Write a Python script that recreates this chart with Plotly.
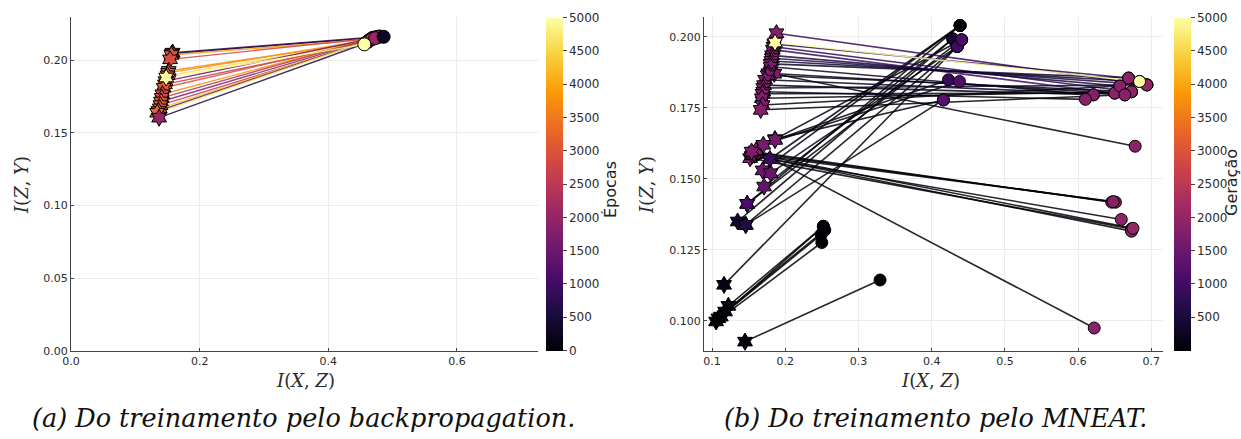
import plotly.graph_objects as go
from plotly.colors import sample_colorscale

# ---------------- (a) backpropagation ----------------
bp_star_x = [0.158, 0.157, 0.156, 0.154, 0.152, 0.151, 0.150, 0.147, 0.146, 0.144,
             0.142, 0.141, 0.140, 0.139, 0.138, 0.136, 0.134, 0.137, 0.148]
bp_star_y = [0.2051, 0.2045, 0.2035, 0.2005, 0.1925, 0.1912, 0.1895, 0.1855, 0.1833, 0.1810,
             0.1765, 0.1740, 0.1715, 0.1690, 0.1668, 0.1650, 0.1638, 0.1604, 0.1880]
bp_circ_x = [0.478, 0.470, 0.466, 0.468, 0.462, 0.465, 0.460, 0.472, 0.458, 0.463,
             0.470, 0.475, 0.466, 0.461, 0.480, 0.468, 0.473, 0.486, 0.456]
bp_circ_y = [0.2160, 0.2154, 0.2142, 0.2150, 0.2128, 0.2140, 0.2122, 0.2152, 0.2118, 0.2135,
             0.2150, 0.2158, 0.2140, 0.2125, 0.2162, 0.2145, 0.2150, 0.2160, 0.2108]
bp_line_z = [1000, 500, 3900, 2800, 3700, 3800, 4600, 1500, 2600, 3000,
             3800, 2400, 1800, 2600, 4300, 1300, 4700, 600, 4900]
bp_star_z = [2900, 2800, 3000, 2900, 3100, 3200, 2900, 2800, 3000, 3100,
             2700, 2900, 3000, 3200, 3100, 2900, 3300, 2000, 5000]
bp_circ_z = [2000, 2200, 2300, 2100, 2400, 2200, 2600, 2100, 2700, 2300,
             2000, 1900, 2500, 2800, 1800, 2200, 2100, 300, 5000]

# ---------------- (b) MNEAT ----------------
mn_star_x = [0.1055, 0.1086, 0.1120, 0.1178, 0.1223, 0.1164, 0.1450,
             0.162, 0.160, 0.158, 0.154, 0.152, 0.155, 0.157, 0.160,
             0.186, 0.186, 0.170, 0.169, 0.180, 0.171, 0.148, 0.148, 0.135, 0.146, 0.146, 0.154, 0.179,
             0.188, 0.185, 0.184, 0.183, 0.182, 0.1816, 0.181, 0.180, 0.180, 0.185,
             0.177, 0.176, 0.1724, 0.171, 0.170, 0.170, 0.169, 0.168, 0.169, 0.1665,
             0.186]
mn_star_y = [0.0998, 0.1009, 0.1015, 0.1033, 0.1053, 0.1127, 0.0927,
             0.1594, 0.1590, 0.1585, 0.1580, 0.1573, 0.1583, 0.1588, 0.1600,
             0.1640, 0.1637, 0.1620, 0.1530, 0.1520, 0.1473, 0.1412, 0.1412, 0.1350, 0.1338, 0.1338, 0.1596, 0.1570,
             0.2013, 0.1975, 0.1965, 0.1955, 0.1935, 0.1925, 0.1915, 0.1905, 0.1895, 0.1870,
             0.1872, 0.1865, 0.1849, 0.1830, 0.1820, 0.1807, 0.1800, 0.1784, 0.1760, 0.1743,
             0.1980]
mn_circ_x = [0.2499, 0.2490, 0.2520, 0.2540, 0.2520, 0.4350, 0.3295,
             0.646, 0.651, 0.648, 0.659, 0.673, 0.673, 0.675, 0.622,
             0.416, 0.423, 0.438, 0.4388, 0.435, 0.4288, 0.441, 0.4388, 0.4288, 0.435, 0.416, 0.441, 0.4388,
             0.694, 0.669, 0.673, 0.664, 0.657, 0.694, 0.684, 0.669, 0.621, 0.678,
             0.650, 0.673, 0.664, 0.621, 0.694, 0.610, 0.650, 0.673, 0.657, 0.664,
             0.684]
mn_circ_y = [0.1276, 0.1304, 0.1333, 0.1320, 0.1333, 0.1966, 0.1144,
             0.1418, 0.1418, 0.1420, 0.1357, 0.1324, 0.1316, 0.1326, 0.0975,
             0.1778, 0.1849, 0.1843, 0.2040, 0.1966, 0.1993, 0.1990, 0.2040, 0.1993, 0.1966, 0.1778, 0.1990, 0.2040,
             0.1831, 0.1855, 0.1807, 0.1796, 0.1827, 0.1831, 0.1843, 0.1855, 0.1796, 0.1615,
             0.1802, 0.1807, 0.1796, 0.1796, 0.1831, 0.1780, 0.1802, 0.1807, 0.1827, 0.1796,
             0.1843]
mn_line_z = [10, 15, 20, 10, 15, 20, 10,
             50, 80, 30, 50, 60, 30, 20, 40,
             60, 40, 80, 20, 50, 30, 40, 10, 20, 30, 50, 60, 10,
             900, 800, 700, 1000, 500, 600, 400, 300, 300, 100,
             200, 100, 300, 50, 400, 100, 200, 50, 100, 20,
             5000]
mn_star_z = [20, 30, 40, 60, 80, 150, 60,
             1600, 1700, 1650, 1800, 1750, 1700, 1650, 1700,
             1600, 1600, 1650, 1500, 1450, 1400, 1100, 1100, 400, 600, 600, 1700, 900,
             1800, 1700, 1750, 1800, 1700, 1850, 1800, 1750, 1700, 1700,
             1800, 1750, 1700, 1800, 1750, 1700, 1800, 1750, 1700, 1800,
             5000]
mn_circ_z = [30, 20, 40, 30, 50, 1000, 30,
             1900, 1950, 1850, 1900, 1950, 1900, 2000, 1850,
             1300, 900, 1200, 50, 1000, 400, 1100, 50, 400, 1000, 1300, 1100, 50,
             2000, 1900, 1950, 1850, 1900, 2000, 1950, 1900, 1850, 1900,
             1900, 1950, 1850, 1800, 2000, 1850, 1900, 1950, 1900, 1850,
             5000]

BP_CMIN, BP_CMAX = 0, 5000
MN_CMIN, MN_CMAX = 1, 5000

W, H = 1241, 439
def px(x):
    return x / W
def py(y):
    return 1 - y / H

fig = go.Figure()

def add_pairs(sx, sy, cx, cy, lz, cmin, cmax, xa, ya, width, opacity):
    norm = [min(1.0, max(0.0, (z - cmin) / (cmax - cmin))) for z in lz]
    cols = sample_colorscale("Inferno", norm)
    for i in range(len(sx)):
        fig.add_trace(go.Scatter(x=[sx[i], cx[i]], y=[sy[i], cy[i]], mode="lines",
                                 line=dict(color=cols[i], width=width), opacity=opacity,
                                 xaxis=xa, yaxis=ya, showlegend=False, hoverinfo="skip"))

add_pairs(bp_star_x, bp_star_y, bp_circ_x, bp_circ_y, bp_line_z, BP_CMIN, BP_CMAX, "x", "y", 1.4, 0.85)
add_pairs(mn_star_x, mn_star_y, mn_circ_x, mn_circ_y, mn_line_z, MN_CMIN, MN_CMAX, "x2", "y2", 1.6, 0.85)

mline = dict(color="black", width=1)
fig.add_trace(go.Scatter(x=bp_star_x, y=bp_star_y, mode="markers", xaxis="x", yaxis="y",
                         marker=dict(symbol="hexagram", size=13, color=bp_star_z, coloraxis="coloraxis", line=mline),
                         showlegend=False))
fig.add_trace(go.Scatter(x=bp_circ_x, y=bp_circ_y, mode="markers", xaxis="x", yaxis="y",
                         marker=dict(symbol="circle", size=13, color=bp_circ_z, coloraxis="coloraxis", line=mline),
                         showlegend=False))
fig.add_trace(go.Scatter(x=mn_star_x, y=mn_star_y, mode="markers", xaxis="x2", yaxis="y2",
                         marker=dict(symbol="hexagram", size=13, color=mn_star_z, coloraxis="coloraxis2", line=mline),
                         showlegend=False))
fig.add_trace(go.Scatter(x=mn_circ_x, y=mn_circ_y, mode="markers", xaxis="x2", yaxis="y2",
                         marker=dict(symbol="circle", size=12, color=mn_circ_z, coloraxis="coloraxis2", line=mline),
                         showlegend=False))

tickfont = dict(family="DejaVu Sans", size=11, color="#2b2b2b")
axis_common = dict(showline=True, linecolor="#444444", linewidth=1, mirror=False, automargin=False,
                   showgrid=True, gridcolor="#ececec", gridwidth=1, zeroline=False,
                   ticks="inside", ticklen=3, tickcolor="#444444", tickfont=tickfont)

ydom = [py(351), py(17)]
fig.update_layout(
    width=W, height=H, margin=dict(l=0, r=0, t=0, b=0),
    paper_bgcolor="white", plot_bgcolor="white",
    xaxis=dict(domain=[px(71), px(538)], range=[0, 0.726], tickvals=[0, 0.2, 0.4, 0.6],
               tickformat=".1f", anchor="y", **axis_common),
    yaxis=dict(domain=ydom, range=[0, 0.2296], tickvals=[0, 0.05, 0.10, 0.15, 0.20],
               tickformat=".2f", anchor="x", **axis_common),
    xaxis2=dict(domain=[px(704), px(1163)], range=[0.089, 0.716],
                tickvals=[0.1, 0.2, 0.3, 0.4, 0.5, 0.6, 0.7], tickformat=".1f", anchor="y2", **axis_common),
    yaxis2=dict(domain=ydom, range=[0.0894, 0.207],
                tickvals=[0.100, 0.125, 0.150, 0.175, 0.200], tickformat=".3f", anchor="x2", **axis_common),
    coloraxis=dict(colorscale="Inferno", cmin=BP_CMIN, cmax=BP_CMAX,
                   colorbar=dict(x=px(546), xanchor="left", y=py(184), yanchor="middle",
                                 len=333, lenmode="pixels", thickness=17, thicknessmode="pixels",
                                 outlinewidth=0, ticks="outside", ticklen=4, tickcolor="#444444",
                                 tickvals=list(range(0, 5001, 500)), tickfont=dict(family="DejaVu Sans", size=12, color="#2b2b2b"),
                                 xpad=0, ypad=0)),
    coloraxis2=dict(colorscale="Inferno", cmin=MN_CMIN, cmax=MN_CMAX,
                    colorbar=dict(x=px(1174), xanchor="left", y=py(184), yanchor="middle",
                                  len=333, lenmode="pixels", thickness=17, thicknessmode="pixels",
                                  outlinewidth=0, ticks="outside", ticklen=4, tickcolor="#444444",
                                  tickvals=list(range(500, 5001, 500)), tickfont=dict(family="DejaVu Sans", size=12, color="#2b2b2b"),
                                  xpad=0, ypad=0)),
)

serif = "DejaVu Serif"
ann = []
def add_ann(text, x, y, size, family, angle=0, color="#2b2b2b"):
    ann.append(dict(text=text, x=px(x), y=py(y), xref="paper", yref="paper", showarrow=False,
                    xanchor="center", yanchor="middle", textangle=angle,
                    font=dict(family=family, size=size, color=color)))

add_ann("<i>I</i>(<i>X</i>, <i>Z</i>)", 305, 380, 18, serif)
add_ann("<i>I</i>(<i>X</i>, <i>Z</i>)", 930, 380, 18, serif)
add_ann("<i>I</i>(<i>Z</i>, <i>Y</i>)", 21, 185, 18, serif, angle=-90)
add_ann("<i>I</i>(<i>Z</i>, <i>Y</i>)", 646, 185, 18, serif, angle=-90)
add_ann("Épocas", 610, 190, 16, "DejaVu Sans", angle=-90, color="#222222")
add_ann("Geração", 1231, 183, 16, "DejaVu Sans", angle=-90, color="#222222")
add_ann("<i>(a) Do treinamento pelo backpropagation.</i>", 303, 418, 25.5, serif, color="#111111")
add_ann("<i>(b) Do treinamento pelo MNEAT.</i>", 935, 418, 25.5, serif, color="#111111")
fig.update_layout(annotations=ann)

fig.write_html("out.html", post_script="document.body.style.margin='0';",
               config={"displayModeBar": False})
